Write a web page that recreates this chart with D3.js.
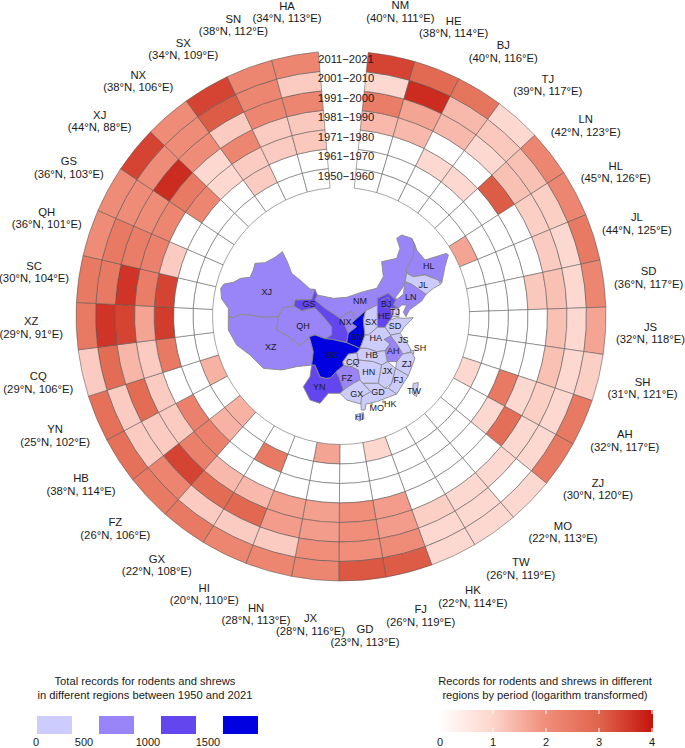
<!DOCTYPE html>
<html>
<head>
<meta charset="utf-8">
<script src="https://d3js.org/d3.v7.min.js"></script>
<style>
	body { margin: 0; background: #fff; }
	text { font-family: "Liberation Sans", Arial, sans-serif; fill: #1a1a1a; }
</style>
</head>
<body>
<svg id="chart" width="685" height="748"></svg>
<script>
let regions = ["NM","HE","BJ","TJ","LN","HL","JL","SD","JS","SH","AH","ZJ","MO","TW","HK","FJ","GD","JX","HN","HI","GX","FZ","HB","YN","CQ","XZ","SC","QH","GS","XJ","NX","SX","SN","HA"];
let lats = [40,38,40,39,42,45,44,36,32,31,32,30,22,26,22,26,23,28,28,20,22,26,38,25,29,29,30,36,36,44,38,34,38,34];
let lons = [111,114,116,117,123,126,125,117,118,121,117,120,113,119,114,119,113,116,113,110,108,106,114,102,106,91,104,101,103,88,106,109,112,113];
let periods = ["1950\u22121960","1961\u22121970","1971\u22121980","1981\u22121990","1991\u22122000","2001\u22122010","2011\u22122021"];

// log10 records, one row per region, one column per period
let logRecords = [
	[0,0,0,1.4,2.4,0.95,3.4],
	[0,0,0,1.4,1.7,3.7,2.85],
	[0,0,0.95,0,1.4,1.4,2.6],
	[0,0,0.95,0,0.95,1.2,0.95],
	[0,0,0,3.1,1.3,1.3,2.2],
	[1.7,0,0,0,1.1,1.1,2.2],
	[0,0,0,0,1.15,0.95,2.5],
	[0,0,0,1.2,1.3,0.95,2.2],
	[0,0,0,0,1.3,0.95,1.7],
	[0,0,0,0,1.3,0.95,1.1],
	[0.95,0,2.5,0.95,1.1,0.95,2.5],
	[0,0,0.95,2.75,0.95,0.95,2.5],
	[0,0,0,0,0.95,0,0.95],
	[0,0,0,0,0.95,0.95,0.95],
	[0,0,0,0,1.1,0.95,0.95],
	[1.0,0,0,1.8,1.8,2.05,3.1],
	[0,0,0,2.0,2.0,2.0,3.15],
	[1.7,0,0,1.75,1.8,2.0,2.2],
	[0,0,0,1.75,1.8,1.15,2.2],
	[0,2.5,0,1.4,2.9,1.15,2.2],
	[0,0,0,1.4,2.8,1.15,2.5],
	[1.5,1.5,2.3,2.35,3.4,2.25,2.5],
	[0,0,2.3,1.15,1.15,1.15,2.7],
	[1.5,0,0,1.15,2.8,1.15,2.7],
	[0,0,2.5,1.15,1.45,2.8,1.15],
	[0,0,3.5,1.7,3.4,3.6,2.5],
	[0,0,3.4,2.4,3.6,2.5,2.5],
	[0,0,1.15,2.3,2.4,2.5,2.05],
	[0,0,0,2.2,2.05,2.05,2.05],
	[0,0,2.2,2.5,3.7,2.05,3.4],
	[0,0,0.95,0.95,2.05,2.05,2.05],
	[0,1.15,1.15,2.2,1.15,3.1,3.4],
	[0,0,1.15,1.15,2.2,2.2,2.2],
	[0,0,1.2,1.2,2.2,1.15,2.2]
];

// total records per region, estimated from the map class
let totals = [800,1200,1200,200,700,700,300,300,300,100,800,300,10,300,10,400,300,300,300,300,300,800,300,1300,300,800,1800,800,1200,800,800,300,1700,300];

let classBreaks = [500,1000,1500];
let classColours = ["#ccccff","#9a85f8","#6446ee","#0000e0"];
let logTicks = [0,1,2,3,4];
let logColours = ["#ffffff","#fdd6cd","#f08e7a","#e0644c","#c4140c"];

// province outlines, in map units
let outlines = {
	XJ: [[62,205],[72,192],[100,187],[122,175],[150,172],[160,150],[165,130],[195,128],[225,112],[247,95],[262,125],[275,160],[300,180],[330,207],[345,208],[335,238],[285,240],[282,258],[250,263],[235,290],[190,292],[125,282],[100,293],[85,290],[85,265],[65,237]],
	XZ: [[85,290],[100,293],[125,282],[190,292],[235,290],[230,330],[270,352],[300,378],[328,350],[340,395],[335,435],[290,440],[245,450],[190,445],[150,405],[110,375],[85,330]],
	QH: [[250,263],[282,258],[305,272],[345,263],[370,290],[395,320],[395,345],[375,356],[345,345],[328,350],[300,378],[270,352],[230,330],[235,290]],
	NM: [[352,225],[400,235],[440,232],[490,215],[530,205],[550,170],[545,125],[590,115],[600,85],[590,55],[605,45],[635,55],[643,75],[640,110],[618,145],[620,160],[615,185],[610,200],[588,230],[588,240],[565,220],[532,235],[532,255],[497,272],[465,300],[455,275],[440,280],[420,295],[395,278],[375,265],[345,240]],
	GS: [[345,208],[352,225],[345,240],[375,265],[395,278],[420,295],[432,310],[445,340],[440,368],[395,358],[375,356],[395,345],[395,320],[370,290],[345,263],[305,272],[282,258],[285,240],[335,238]],
	NX: [[440,280],[455,275],[465,300],[455,310],[470,320],[445,340],[432,310],[420,295]],
	SN: [[497,272],[490,300],[495,345],[480,385],[440,368],[445,340],[470,320],[455,310],[465,300]],
	HL: [[635,55],[645,75],[650,90],[675,120],[740,100],[745,105],[735,140],[725,190],[715,180],[675,165],[640,170],[620,160],[618,145],[640,110],[643,75]],
	JL: [[620,160],[640,170],[675,165],[715,180],[722,193],[700,205],[678,223],[655,207],[635,193],[615,185]],
	LN: [[588,240],[610,223],[615,185],[635,193],[655,207],[678,223],[665,243],[628,270],[618,290],[610,277],[620,255],[605,255],[595,265],[580,255]],
	HE: [[532,235],[565,220],[588,240],[580,255],[595,265],[572,265],[578,290],[570,300],[555,322],[532,322],[532,285]],
	BJ: [[545,240],[565,232],[572,250],[560,262],[545,258]],
	TJ: [[572,265],[595,265],[597,290],[578,290]],
	SX: [[497,272],[532,255],[532,322],[505,345],[495,345],[490,300]],
	SD: [[570,300],[590,293],[612,295],[640,293],[612,322],[600,340],[572,345],[555,322]],
	HA: [[505,345],[532,322],[555,322],[572,345],[570,372],[555,392],[530,395],[500,385],[480,385],[495,345]],
	JS: [[572,345],[600,340],[625,375],[635,395],[608,402],[590,372],[572,348]],
	AH: [[552,358],[572,348],[590,372],[610,405],[590,425],[562,425],[555,392],[570,372]],
	SH: [[632,390],[642,392],[640,402],[632,400]],
	ZJ: [[608,402],[635,397],[645,415],[625,467],[587,445],[590,425]],
	HB: [[480,385],[500,385],[530,395],[555,392],[562,425],[545,435],[520,425],[475,420],[470,398]],
	CQ: [[470,398],[475,420],[455,440],[430,437],[428,425],[445,402]],
	FZ: [[408,455],[430,437],[455,440],[475,450],[480,480],[460,490],[430,510],[418,475]],
	HN: [[475,420],[520,425],[545,435],[535,490],[488,490],[480,480],[475,450],[455,440]],
	JX: [[545,435],[562,425],[587,445],[575,490],[555,505],[535,490]],
	FJ: [[587,445],[625,467],[590,522],[565,505],[575,490]],
	GD: [[488,490],[535,490],[555,505],[565,505],[590,522],[530,545],[498,552],[495,570],[484,570],[482,540],[485,530],[512,515]],
	GX: [[430,510],[460,490],[480,480],[488,490],[512,515],[485,530],[482,552],[440,540],[420,520]],
	YN: [[335,435],[345,435],[360,470],[378,475],[392,473],[408,455],[418,475],[430,510],[420,520],[385,520],[360,550],[330,540],[310,500],[330,470]],
	SC: [[328,350],[345,345],[375,356],[395,358],[440,368],[480,385],[470,398],[445,402],[428,425],[430,437],[408,455],[392,473],[378,475],[360,470],[345,435],[335,435],[340,395]],
	HI: [[472,583],[490,578],[492,595],[478,603],[468,595]],
	TW: [[640,490],[655,488],[650,530],[636,520]],
	MO: [[513,551],[517,551],[517,555],[513,555]],
	HK: [[548,543],[553,543],[553,547],[548,547]]
};

// where the code sits on the map, same units as the outlines
let mapLabels = {XJ:[200,215],GS:[327,253],NM:[480,243],BJ:[558,252],LN:[632,232],HL:[686,138],JL:[670,195],TJ:[585,277],HE:[553,287],NX:[436,305],SX:[513,305],SD:[585,318],QH:[309,318],XZ:[212,381],SN:[472,350],HA:[527,355],JS:[610,360],SH:[660,384],AH:[580,393],SC:[396,406],HB:[515,405],CQ:[458,425],ZJ:[620,432],JX:[562,452],HN:[506,456],FJ:[595,480],FZ:[441,475],YN:[358,502],TW:[642,512],GD:[534,517],GX:[470,522],HK:[571,552],MO:[530,565],HI:[478,590]};

function drawRing(svg){
	let cx = 341, cy = 316;
	let g = svg.append("g").attr("transform", `translate(${cx},${cy})`);
	let toRad = Math.PI / 180;
	let angle = d3.scaleBand().domain(regions).range([5.9 * toRad, 355.1 * toRad]);
	let radius = d3.scaleBand().domain(periods).range([128.5, 265]);
	let colour = d3.scaleLinear().domain(logTicks).range(logColours);
	let arc = d3.arc()
		.startAngle(d => angle(d.region))
		.endAngle(d => angle(d.region) + angle.bandwidth())
		.innerRadius(d => radius(d.period))
		.outerRadius(d => radius(d.period) + radius.bandwidth());

	let cells = [];
	regions.forEach((r, i) => periods.forEach((p, j) => cells.push({region: r, period: p, value: logRecords[i][j]})));

	g.selectAll("path")
		.data(cells)
		.enter().append("path")
			.attr("d", arc)
			.attr("fill", d => colour(d.value))
			.attr("stroke", "#555")
			.attr("stroke-opacity", 0.75)
			.attr("stroke-width", 0.7);

	// the bottom label sits a bit further out, the top one only just fits
	let nudge = {GD: [-1, 11], HA: [0, 1.5]};
	let labels = g.selectAll(".region")
		.data(regions)
		.enter().append("text")
			.attr("class", "region")
			.attr("text-anchor", "middle")
			.attr("font-size", 11.3)
			.attr("transform", function(d){
				let a = angle(d) + angle.bandwidth() / 2;
				let n = nudge[d] || [0, 0];
				return `translate(${310 * Math.sin(a) + n[0]},${-310 * Math.cos(a) + n[1]})`;
			});
	labels.append("tspan").attr("x", 0).attr("y", -2.5).text(d => d);
	labels.append("tspan").attr("x", 0).attr("y", 10).text((d, i) => `(${lats[i]}°N, ${lons[i]}°E)`);

	g.selectAll(".period")
		.data(periods)
		.enter().append("text")
			.attr("class", "period")
			.attr("text-anchor", "middle")
			.attr("font-size", 11.2)
			.attr("x", 5)
			.attr("y", d => -(radius(d) + radius.bandwidth() / 2) + 2)
			.text(d => d);
}

function drawMap(svg){
	let colour = d3.scaleThreshold().domain(classBreaks).range(classColours);
	let project = d3.geoIdentity().scale(1 / 3).translate([200, 220]);
	let path = d3.geoPath(project);
	let features = Object.keys(outlines).map(function(k){
		return {
			type: "Feature",
			id: k,
			geometry: {type: "Polygon", coordinates: [outlines[k].concat([outlines[k][0]])]}
		};
	});
	let g = svg.append("g").attr("class", "map");
	g.selectAll("path")
		.data(features)
		.enter().append("path")
			.attr("d", path)
			.attr("fill", d => colour(totals[regions.indexOf(d.id)]))
			.attr("stroke", "#8a8a8a")
			.attr("stroke-width", 0.9)
			.attr("stroke-linejoin", "round");
	g.selectAll("text")
		.data(regions)
		.enter().append("text")
			.attr("text-anchor", "middle")
			.attr("font-size", 9)
			.attr("x", d => project([mapLabels[d][0], mapLabels[d][1]])[0])
			.attr("y", d => project([mapLabels[d][0], mapLabels[d][1]])[1] + 3)
			.text(d => d);
}

function drawClassLegend(svg){
	let g = svg.append("g").attr("class", "classLegend");
	g.selectAll(".title")
		.data(["Total records for rodents and shrews", "in different regions between 1950 and 2021"])
		.enter().append("text")
			.attr("class", "title")
			.attr("text-anchor", "middle")
			.attr("font-size", 11.2)
			.attr("x", 145)
			.attr("y", (d, i) => 685 + i * 14)
			.text(d => d);
	let slots = d3.scaleBand().domain(classColours).range([37, 258]).paddingInner(0.435);
	g.selectAll("rect")
		.data(classColours)
		.enter().append("rect")
			.attr("x", d => slots(d))
			.attr("y", 716)
			.attr("width", slots.bandwidth())
			.attr("height", 18)
			.attr("fill", d => d);
	let tickX = [36, 84, 148, 208];
	g.selectAll(".tick")
		.data([0].concat(classBreaks))
		.enter().append("text")
			.attr("class", "tick")
			.attr("text-anchor", "middle")
			.attr("font-size", 11)
			.attr("x", (d, i) => tickX[i])
			.attr("y", 745.5)
			.text(d => d);
}

function drawLogLegend(svg){
	let g = svg.append("g").attr("class", "logLegend");
	let x = d3.scaleLinear().domain([0, 4]).range([440, 652]);
	let colour = d3.scaleLinear().domain(logTicks).range(logColours);
	let grad = svg.append("defs").append("linearGradient").attr("id", "gradLinear");
	logTicks.forEach(function(t){
		grad.append("stop").attr("offset", (t / 4 * 100) + "%").attr("stop-color", colour(t));
	});
	g.selectAll(".title")
		.data(["Records for rodents and shrews in different", "regions by period (logarithm transformed)"])
		.enter().append("text")
			.attr("class", "title")
			.attr("text-anchor", "middle")
			.attr("font-size", 11.2)
			.attr("x", 545)
			.attr("y", (d, i) => 685 + i * 14)
			.text(d => d);
	g.append("rect")
		.attr("x", 438)
		.attr("y", 710)
		.attr("width", 215)
		.attr("height", 22)
		.attr("fill", "url(#gradLinear)");
	g.selectAll("line.top")
		.data(logTicks.slice(1))
		.enter().append("line")
			.attr("class", "top")
			.attr("x1", d => x(d)).attr("x2", d => x(d))
			.attr("y1", 710).attr("y2", 714)
			.attr("stroke", "#fff");
	g.selectAll("line.bottom")
		.data(logTicks.slice(1))
		.enter().append("line")
			.attr("class", "bottom")
			.attr("x1", d => x(d)).attr("x2", d => x(d))
			.attr("y1", 728).attr("y2", 732)
			.attr("stroke", "#fff");
	g.selectAll(".tick")
		.data(logTicks)
		.enter().append("text")
			.attr("class", "tick")
			.attr("text-anchor", "middle")
			.attr("font-size", 11)
			.attr("x", d => x(d))
			.attr("y", 745.5)
			.text(d => d);
}

let svg = d3.select("#chart");
drawRing(svg);
drawMap(svg);
drawClassLegend(svg);
drawLogLegend(svg);
</script>
</body>
</html>
